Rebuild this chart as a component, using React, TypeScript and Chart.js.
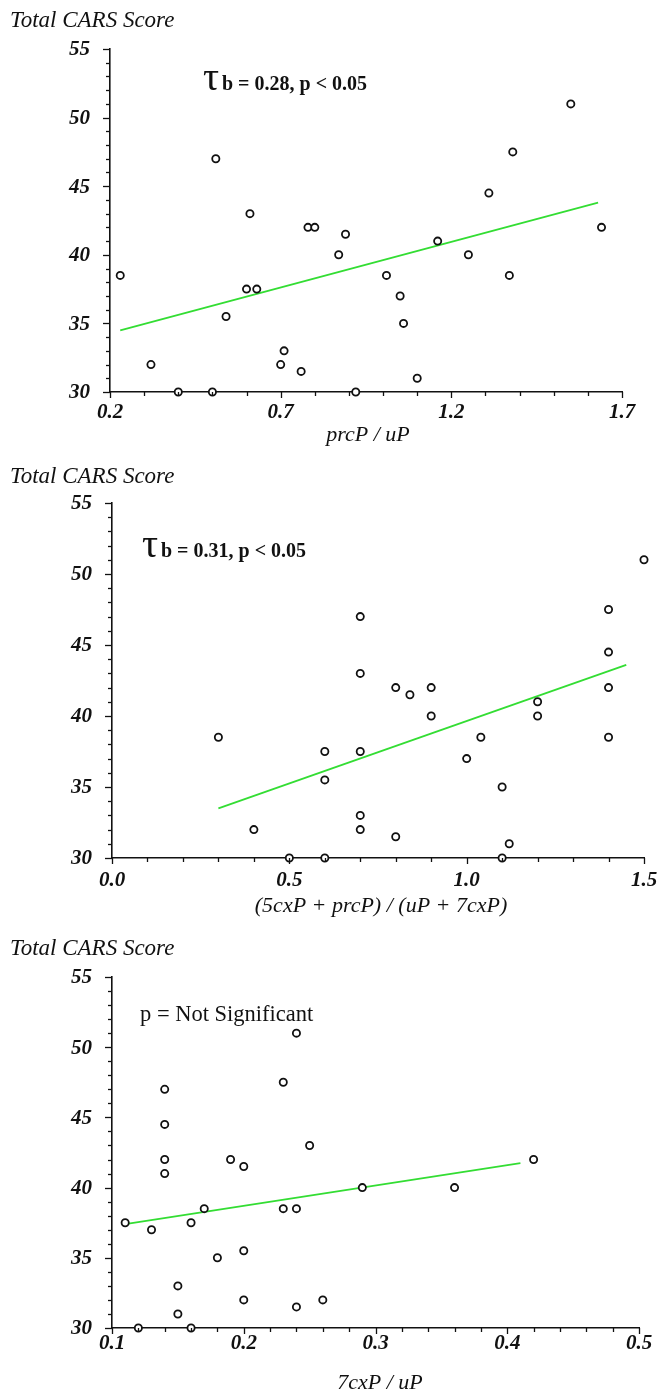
import React, { useEffect, useRef } from 'react';
import { Chart, registerables } from 'chart.js';

Chart.register(...registerables);

const FONT = '"Liberation Serif", "Times New Roman", serif';

// ---- shared axis ----
const yTitle = 'Total CARS Score';
const yTickLabels = [30, 35, 40, 45, 50, 55];

// ---- Panel 1: prcP / uP ----
const p1X = [0.23, 0.32, 0.40, 0.50, 0.54, 0.60, 0.63, 0.61, 0.70, 0.71, 0.76, 0.78, 0.80, 0.87, 0.89, 0.92, 1.01, 1.05, 1.06, 1.10, 1.16, 1.25, 1.37, 1.64, 0.51, 1.31, 1.38, 1.55];
const p1Y = [38.5, 32, 30, 30, 35.5, 37.5, 37.5, 43, 32, 33, 31.5, 42, 42, 40, 41.5, 30, 38.5, 37, 35, 31, 41, 40, 38.5, 42, 47, 44.5, 47.5, 51];
const p1FitX = [0.23, 1.63];
const p1FitY = [34.5, 43.8];
const p1XTicks = [0.2, 0.7, 1.2, 1.7];
const p1XTitle = 'prcP / uP';
const p1Note = 'b = 0.28, p < 0.05';

// ---- Panel 2: (5cxP + prcP) / (uP + 7cxP) ----
const p2X = [0.30, 0.40, 0.50, 0.60, 0.60, 0.60, 0.70, 0.70, 0.70, 0.70, 0.80, 0.80, 0.84, 0.90, 0.90, 1.00, 1.04, 1.10, 1.10, 1.12, 1.20, 1.20, 1.40, 1.40, 0.70, 1.40, 1.40, 1.50];
const p2Y = [38.5, 32, 30, 30, 37.5, 35.5, 43, 37.5, 33, 32, 42, 31.5, 41.5, 42, 40, 37, 38.5, 35, 30, 31, 41, 40, 42, 38.5, 47, 47.5, 44.5, 51];
const p2FitX = [0.30, 1.45];
const p2FitY = [33.5, 43.6];
const p2XTicks = [0.0, 0.5, 1.0, 1.5];
const p2XTitle = '(5cxP + prcP) / (uP + 7cxP)';
const p2Note = 'b = 0.31, p < 0.05';

// ---- Panel 3: 7cxP / uP ----
const p3X = [0.11, 0.12, 0.13, 0.14, 0.14, 0.14, 0.15, 0.15, 0.16, 0.16, 0.17, 0.18, 0.19, 0.20, 0.20, 0.20, 0.23, 0.24, 0.24, 0.25, 0.26, 0.29, 0.36, 0.42, 0.14, 0.23, 0.24];
const p3Y = [37.5, 30, 37, 44.5, 42, 41, 33, 31, 37.5, 30, 38.5, 35, 42, 41.5, 35.5, 32, 38.5, 38.5, 31.5, 43, 32, 40, 40, 42, 47, 47.5, 51];
const p3FitX = [0.11, 0.41];
const p3FitY = [37.4, 41.75];
const p3XTicks = [0.1, 0.2, 0.3, 0.4, 0.5];
const p3XTitle = '7cxP / uP';
const p3Note = 'p = Not Significant';

type Spec = {
  xs: number[]; ys: number[]; fitX: number[]; fitY: number[];
  xTicks: number[]; xMin: number; xMax: number; xStep: number;
  xTitle: string; note: string; tau: boolean;
  height: number; left: number; right: number; top: number; bottom: number;
  yTitleBase: number; xLabelOff: number; xTitleX: number; xTitleY: number;
  tauX: number; noteX: number; noteBase: number; noteFont: string;
};

const specs: Spec[] = [
  {
    xs: p1X, ys: p1Y, fitX: p1FitX, fitY: p1FitY, xTicks: p1XTicks, xMin: 0.2, xMax: 1.7, xStep: 0.1,
    xTitle: p1XTitle, note: p1Note, tau: true,
    height: 460, left: 110, right: 622, top: 49, bottom: 392,
    yTitleBase: 27, xLabelOff: 21, xTitleX: 368, xTitleY: 435,
    tauX: 203, noteX: 222, noteBase: 90, noteFont: `bold 20px ${FONT}`,
  },
  {
    xs: p2X, ys: p2Y, fitX: p2FitX, fitY: p2FitY, xTicks: p2XTicks, xMin: 0, xMax: 1.5, xStep: 0.1,
    xTitle: p2XTitle, note: p2Note, tau: true,
    height: 460, left: 112, right: 644, top: 43, bottom: 398,
    yTitleBase: 23, xLabelOff: 23, xTitleX: 381, xTitleY: 446,
    tauX: 142, noteX: 161, noteBase: 97, noteFont: `bold 20px ${FONT}`,
  },
  {
    xs: p3X, ys: p3Y, fitX: p3FitX, fitY: p3FitY, xTicks: p3XTicks, xMin: 0.1, xMax: 0.5, xStep: 0.02,
    xTitle: p3XTitle, note: p3Note, tau: false,
    height: 474, left: 112, right: 639, top: 57, bottom: 408,
    yTitleBase: 35, xLabelOff: 16, xTitleX: 380, xTitleY: 463,
    tauX: 140, noteX: 140, noteBase: 101, noteFont: `22.5px ${FONT}`,
  },
];

const decorPlugin = {
  id: 'decor',
  afterDraw(chart: any, _args: any, opts: any) {
    const spec: Spec = opts.spec;
    if (!spec) return;
    const ctx: CanvasRenderingContext2D = chart.ctx;
    const xs = chart.scales.x;
    const ys = chart.scales.y;
    const a = chart.chartArea;
    ctx.save();
    ctx.strokeStyle = '#111';
    ctx.fillStyle = '#111';
    ctx.lineWidth = 1.3;

    // y ticks (every 1, major every 5)
    for (let v = 30; v <= 55; v++) {
      const py = Math.round(ys.getPixelForValue(v)) + 0.5;
      const major = yTickLabels.indexOf(v) >= 0;
      const len = major ? 7 : 4;
      ctx.beginPath();
      ctx.moveTo(a.left - len, py);
      ctx.lineTo(a.left, py);
      ctx.stroke();
    }
    // x ticks
    const n = Math.round((spec.xMax - spec.xMin) / spec.xStep);
    for (let i = 0; i <= n; i++) {
      const v = spec.xMin + i * spec.xStep;
      const px = Math.round(xs.getPixelForValue(v)) + 0.5;
      const major = spec.xTicks.some((t) => Math.abs(t - v) < 1e-6);
      const len = major ? 6 : 4;
      ctx.beginPath();
      ctx.moveTo(px, a.bottom);
      ctx.lineTo(px, a.bottom + len);
      ctx.stroke();
    }

    // tick labels
    ctx.font = `italic bold 21px ${FONT}`;
    ctx.textAlign = 'right';
    ctx.textBaseline = 'middle';
    yTickLabels.forEach((v) => {
      ctx.fillText(String(v), a.left - 20, ys.getPixelForValue(v) + 1);
    });
    ctx.textAlign = 'center';
    spec.xTicks.forEach((v) => {
      ctx.fillText(v.toFixed(1), xs.getPixelForValue(v), a.bottom + spec.xLabelOff);
    });

    // axis titles
    ctx.font = `italic 23px ${FONT}`;
    ctx.textAlign = 'left';
    ctx.textBaseline = 'alphabetic';
    ctx.fillText(yTitle, 10, spec.yTitleBase);
    ctx.font = `italic 22px ${FONT}`;
    ctx.textAlign = 'center';
    ctx.textBaseline = 'middle';
    ctx.fillText(spec.xTitle, spec.xTitleX, spec.xTitleY);

    // annotation
    ctx.textAlign = 'left';
    ctx.textBaseline = 'alphabetic';
    if (spec.tau) {
      ctx.font = `40px ${FONT}`;
      ctx.fillText('τ', spec.tauX, spec.noteBase);
    }
    ctx.font = spec.noteFont;
    ctx.fillText(spec.note, spec.noteX, spec.noteBase);
    ctx.restore();
  },
};

function Panel({ spec }: { spec: Spec }) {
  const ref = useRef<HTMLCanvasElement>(null);
  useEffect(() => {
    const canvas = ref.current;
    if (!canvas) return;
    const chart = new Chart(canvas, {
      type: 'scatter',
      data: {
        datasets: [
          {
            type: 'line',
            data: spec.fitX.map((x, i) => ({ x, y: spec.fitY[i] })),
            borderColor: '#33dd33',
            borderWidth: 1.8,
            pointRadius: 0,
            fill: false,
            clip: false,
            order: 2,
          } as any,
          {
            type: 'scatter',
            data: spec.xs.map((x, i) => ({ x, y: spec.ys[i] })),
            pointStyle: 'circle',
            pointRadius: 3.6,
            pointBorderWidth: 1.8,
            borderColor: '#111',
            backgroundColor: '#fff',
            pointBackgroundColor: '#fff',
            pointBorderColor: '#111',
            clip: false,
            order: 1,
          } as any,
        ],
      },
      options: {
        responsive: false,
        animation: false,
        devicePixelRatio: 1,
        events: [],
        layout: { padding: { top: spec.top, right: 657 - spec.right, left: 0, bottom: 0 } },
        plugins: {
          legend: { display: false },
          tooltip: { enabled: false },
          title: { display: false },
          decor: { spec },
        } as any,
        scales: {
          x: {
            type: 'linear',
            min: spec.xMin,
            max: spec.xMax,
            ticks: { display: false, stepSize: spec.xStep },
            grid: { display: false },
            border: { display: true, color: '#111', width: 1.6 },
            afterFit: (s: any) => { s.height = spec.height - spec.bottom; },
          },
          y: {
            type: 'linear',
            min: 30,
            max: 55,
            ticks: { display: false, stepSize: 1 },
            grid: { display: false },
            border: { display: true, color: '#111', width: 1.6 },
            afterFit: (s: any) => { s.width = spec.left; },
          },
        },
      } as any,
      plugins: [decorPlugin],
    });
    return () => chart.destroy();
  }, [spec]);
  return (
    <canvas
      ref={ref}
      width={657}
      height={spec.height}
      style={{ display: 'block', width: 657, height: spec.height }}
    />
  );
}

export default function App() {
  return (
    <div style={{ position: 'absolute', left: 0, top: 0, width: 657, height: 1394, background: '#fff' }}>
      {specs.map((s, i) => (
        <Panel key={i} spec={s} />
      ))}
    </div>
  );
}
